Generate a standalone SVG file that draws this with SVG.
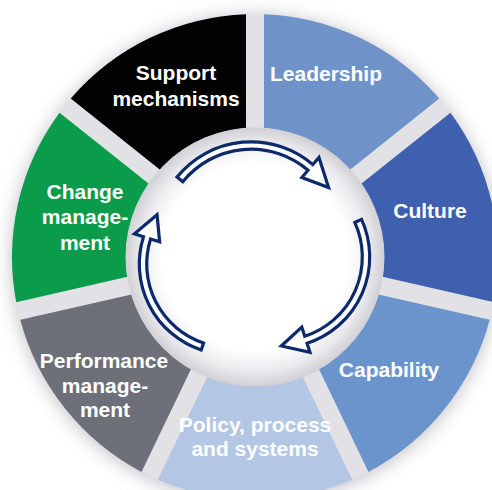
<svg xmlns="http://www.w3.org/2000/svg" xmlns:xlink="http://www.w3.org/1999/xlink" width="492" height="490" viewBox="0 0 492 490">
  <style>
    .label { font-family: "Liberation Sans", Arial, sans-serif; font-weight: bold; font-size: 21px; fill: #ffffff; text-anchor: middle; }
    .arrow { fill: #ffffff; stroke: #0c2a6b; stroke-width: 3.2; stroke-linejoin: miter; }
  </style>
  <defs>
    <!-- one ring segment (top-right sector); the others are rotations of it about the centre -->
    <path id="seg" d="M264.0,14.17 A243,243 0 0 1 439.25,98.56 L350.0,169.73 A129,129 0 0 0 264.0,128.31 Z"/>
    <filter id="halo" x="-20%" y="-20%" width="140%" height="140%">
      <feGaussianBlur stdDeviation="9"/>
    </filter>
    <radialGradient id="hub" cx="255" cy="257" r="130" gradientUnits="userSpaceOnUse">
      <stop offset="0" stop-color="#ffffff"/>
      <stop offset="0.72" stop-color="#ffffff"/>
      <stop offset="0.88" stop-color="#ebebee"/>
      <stop offset="1" stop-color="#cfcfd4"/>
    </radialGradient>
  </defs>

  <rect width="492" height="490" fill="#ffffff"/>

  <!-- soft halo and light grey base that shows through the gaps -->
  <circle cx="255" cy="259" r="244" fill="#c4c4c9" filter="url(#halo)"/>
  <circle cx="255" cy="257" r="243" fill="#e2e2e6"/>

  <g id="leadership">
    <use xlink:href="#seg" href="#seg" fill="#6f93c8"/>
    <text class="label" x="326" y="81">Leadership</text>
  </g>
  <g id="culture">
    <use xlink:href="#seg" href="#seg" fill="#3e60ae" transform="rotate(51.4286 255 257)"/>
    <text class="label" x="430" y="218">Culture</text>
  </g>
  <g id="capability">
    <use xlink:href="#seg" href="#seg" fill="#6c94cc" transform="rotate(102.8571 255 257)"/>
    <text class="label" x="389" y="377">Capability</text>
  </g>
  <g id="policy">
    <use xlink:href="#seg" href="#seg" fill="#b3c6e4" transform="rotate(154.2857 255 257)"/>
    <text class="label" x="255" y="432">Policy, process</text>
    <text class="label" x="255" y="456">and systems</text>
  </g>
  <g id="performance">
    <use xlink:href="#seg" href="#seg" fill="#6e7079" transform="rotate(205.7143 255 257)"/>
    <text class="label" x="104" y="368">Performance</text>
    <text class="label" x="105" y="393">manage-</text>
    <text class="label" x="105" y="417">ment</text>
  </g>
  <g id="change">
    <use xlink:href="#seg" href="#seg" fill="#0a9c4a" transform="rotate(257.1429 255 257)"/>
    <text class="label" x="85" y="199">Change</text>
    <text class="label" x="85" y="224">manage-</text>
    <text class="label" x="85" y="250">ment</text>
  </g>
  <g id="support">
    <use xlink:href="#seg" href="#seg" fill="#020202" transform="rotate(308.5714 255 257)"/>
    <text class="label" x="176" y="80">Support</text>
    <text class="label" x="176" y="106">mechanisms</text>
  </g>

  <!-- central hub -->
  <circle id="hub-disc" cx="255" cy="257" r="129.5" fill="url(#hub)"/>

  <!-- cycle arrows -->
  <g id="connectors">
    <path class="arrow" d="M177.02,177.09 A95.2,95.2 0 0 1 312.82,164.61 L318.99,157.39 L328.59,187.57 L301.85,177.46 L308.02,170.24 A87.8,87.8 0 0 0 182.77,181.75 Z"/>
    <path class="arrow" d="M361.54,219.39 A90.7,90.7 0 0 1 307.03,343.27 L309.96,352.30 L281.33,345.97 L301.80,327.19 L304.74,336.23 A83.3,83.3 0 0 0 354.80,222.46 Z"/>
    <path class="arrow" d="M201.22,350.01 A90.7,90.7 0 0 1 143.50,236.73 L134.44,233.87 L157.05,214.79 L159.62,241.81 L150.56,238.95 A83.3,83.3 0 0 0 203.57,342.99 Z"/>
  </g>
</svg>
